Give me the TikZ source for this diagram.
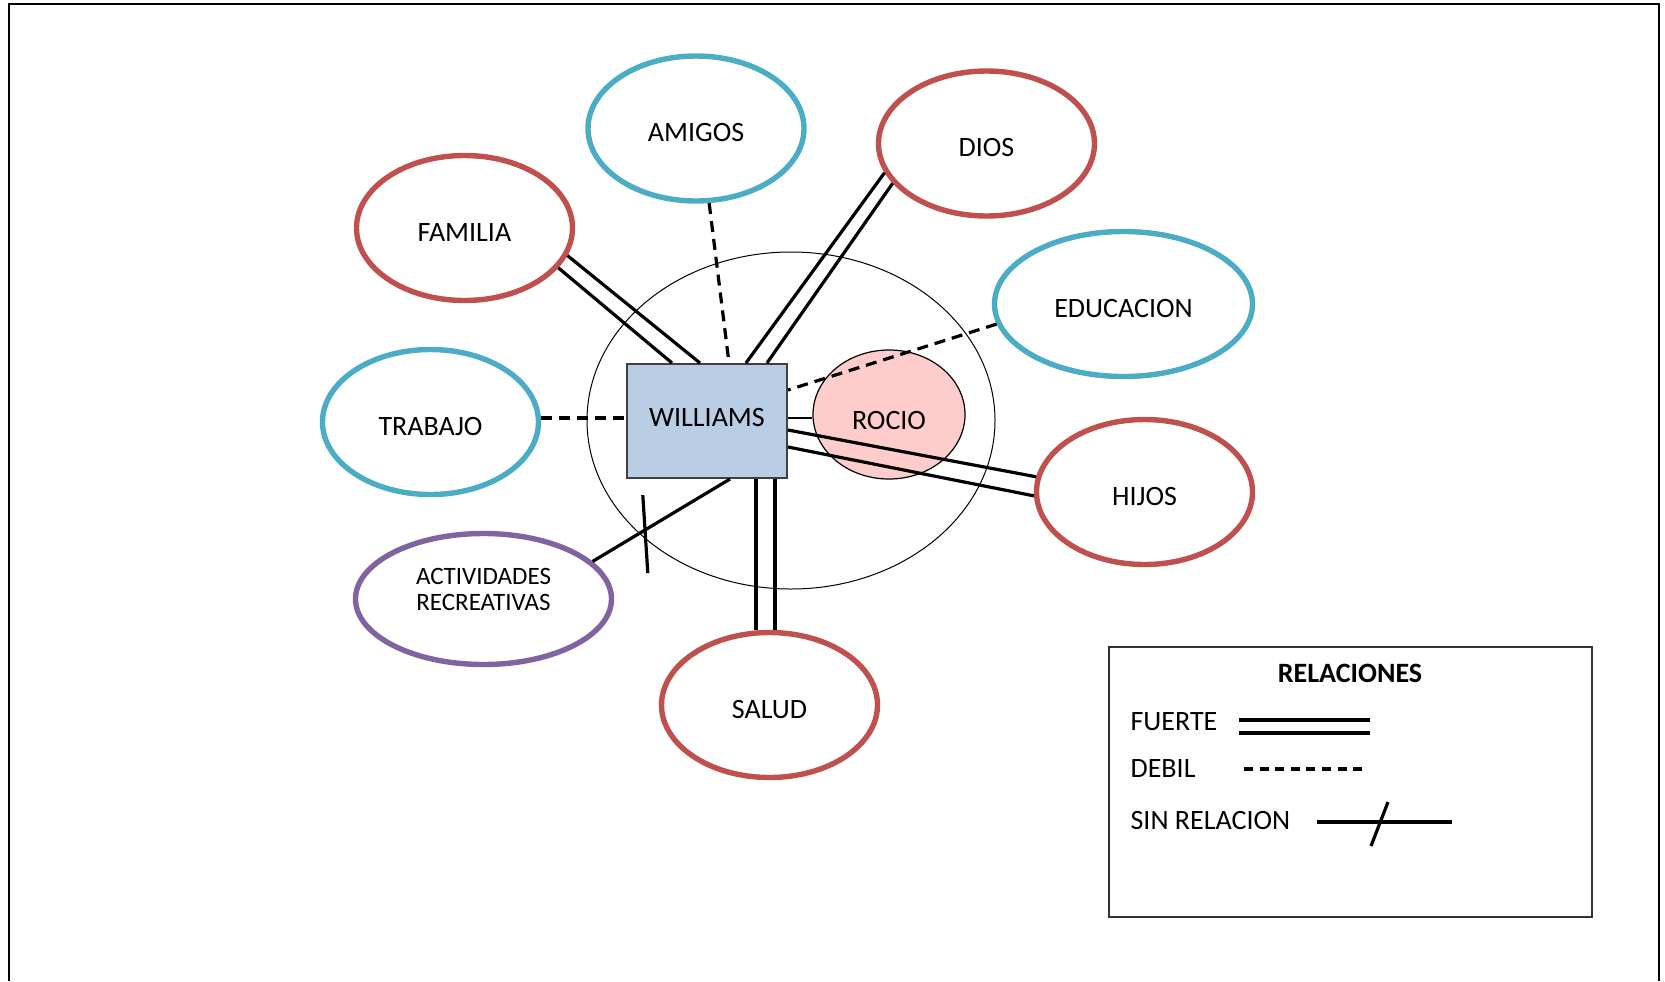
\documentclass[tikz,border=0pt]{standalone}
\usepackage{fontspec}
\setmainfont{Carlito}
\usepackage{tikz}
\usetikzlibrary{shapes, calc}

\begin{document}
\begin{tikzpicture}[x=0.5pt, y=-0.5pt, line width=1.6pt, font=\fontsize{14}{16}\selectfont]
%====Definizione colori===============================================================
	\definecolor{rojo}{HTML}{C0504D}
	\definecolor{celeste}{HTML}{4BACC6}
	\definecolor{morado}{HTML}{8064A2}
	\definecolor{azulclaro}{HTML}{B9CDE5}
	\definecolor{rosa}{HTML}{FFCCCC}
%====Definizione stili===============================================================
	\tikzstyle{base}=[ellipse, line width=2.7pt, minimum width=108pt, minimum height=72.5pt, inner sep=0pt, text height=13pt, text depth=0pt]
	\tikzstyle{nrojo}=[base, draw=rojo]
	\tikzstyle{nceleste}=[base, draw=celeste]
	\tikzstyle{nmorado}=[base, draw=morado]
	\tikzstyle{fuerte}=[line width=1.6pt]
	\tikzstyle{debil}=[line width=1.6pt, dash pattern=on 5.5pt off 3.5pt]
	\tikzstyle{sinrel}=[line width=1.6pt]
	\useasboundingbox (0,0) rectangle (1665,981);
	\draw[line width=1pt] (8.5,981) -- (8.5,4) -- (1659,4) -- (1659,981);
%====Centro: circulo, Rocio, Williams===============================================================
	\node[ellipse, draw, line width=0.5pt, minimum width=204pt, minimum height=168.5pt] (C) at (791,420.5) {};
	\node[ellipse, draw, line width=0.6pt, fill=rosa, minimum width=76pt, minimum height=64.5pt, inner sep=0pt, text height=15pt, text depth=0pt] (R) at (889,414.5) {ROCIO};
	\node[rectangle, draw=black!75, line width=1pt, fill=azulclaro, minimum width=80pt, minimum height=57pt, text depth=4pt] (W) at (707,421) {WILLIAMS};
%====Definizione stati e posizione===============================================================
	\node[nceleste]	(A) at (696,128.5)		{AMIGOS};
	\node[nrojo]		(D) at (986.5,143.5)	{DIOS};
	\node[nrojo]		(F) at (464.5,228)		{FAMILIA};
	\node[nceleste, minimum width=129pt]	(E) at (1123.5,304)	{EDUCACION};
	\node[nceleste]	(T) at (430.5,422)		{TRABAJO};
	\node[nrojo]		(H) at (1144.5,492)	{HIJOS};
	\node[nmorado, minimum width=128pt, minimum height=65.5pt]	(AR) at (483.5,599) {};
	\node[font=\fontsize{12.5}{13}\selectfont, align=center] (ART) at ([yshift=5pt]AR.center) {ACTIVIDADES\\RECREATIVAS};
	\node[nrojo]		(S) at (769.5,705)		{SALUD};
%====Definizione collegamenti===============================================================
	\draw[fuerte]	(F.-15.6)	-- ([xshift=-3.5pt]W.north);
	\draw[fuerte]	(F.-23.7)	-- ([xshift=-17.5pt]W.north);
	\draw[debil]	(A.-80.1)	-- ([xshift=11pt]W.north);
	\draw[fuerte]	(D.-164)	-- ([xshift=19.5pt]W.north);
	\draw[fuerte]	(D.-157.1)	-- ([xshift=30pt]W.north);
	\draw[debil]	(E.189.3)	-- ([yshift=15.5pt]W.east);
	\draw[debil]	([yshift=2pt]T.east)	-- ([yshift=1.5pt]W.west);
	\draw[line width=0.8pt]	([yshift=1.5pt]W.east)	-- ([yshift=1.5pt]W.east -| R.west);
	\draw[fuerte]	([yshift=-4.5pt]W.east)	-- (H.172.8);
	\draw[fuerte]	([yshift=-13pt]W.east)	-- (H.182.1);
	\draw[sinrel]	(AR.19)	-- coordinate[pos=0.38] (X) ([xshift=11.5pt]W.south);
	\draw[sinrel]	([shift={(-1pt,17.5pt)}]X) -- ([shift={(1.5pt,-21.5pt)}]X);
	\draw[fuerte]	([xshift=24.5pt]W.south)	-- ([xshift=24.5pt]W.south |- S.north);
	\draw[fuerte]	([xshift=34pt]W.south)	-- ([xshift=34pt]W.south |- S.north);
%====Legenda===============================================================
	\node[draw=black!80, line width=1pt, minimum width=241.5pt, minimum height=135pt] (L) at (1350.5,782) {};
	\node[font=\bfseries\fontsize{14}{16}\selectfont] (LT) at (1350,673) {RELACIONES};
	\node[anchor=west, inner sep=0pt] (L1) at (1129,722) {FUERTE};
	\node[anchor=west, inner sep=0pt] (L2) at (1129,769) {DEBIL};
	\node[anchor=west, inner sep=0pt] (L3) at (1129,820) {SIN RELACION};
	\draw[fuerte]	(1239,720) -- (1370,720);
	\draw[fuerte]	(1239,733) -- (1370,733);
	\draw[debil, dash pattern=on 4.5pt off 3.3pt]	(1244,769) -- (1362,769);
	\draw[sinrel]	(1317,822) -- (1452,822);
	\draw[sinrel]	(1388,802) -- (1371,846);
\end{tikzpicture}
\end{document}
